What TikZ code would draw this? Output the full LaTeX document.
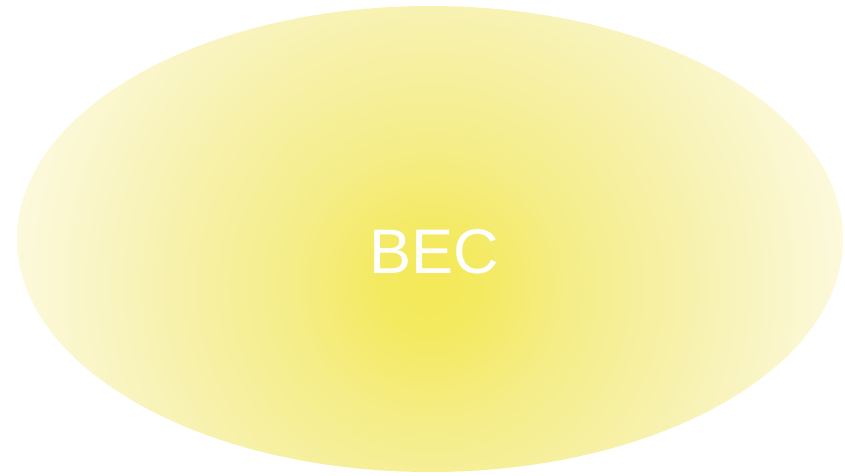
\documentclass[tikz,border=0pt]{standalone}
\usepackage{fontspec}
\setmainfont{Liberation Sans}
\definecolor{becA}{RGB}{244,233,88}
\definecolor{becB}{RGB}{245,237,135}
\definecolor{becC}{RGB}{247,241,172}
\definecolor{becD}{RGB}{252,249,220}
\pgfdeclareradialshading{becshade}{\pgfpoint{0bp}{0bp}}{color(0bp)=(becA); color(3bp)=(becA!80!becB); color(8bp)=(becB); color(15bp)=(becC); color(24bp)=(becD); color(50bp)=(becD)}
\tikzset{
  cloud/.style={shading=becshade, draw=none},
  label/.style={text=white, font=\fontsize{63}{70}\selectfont, inner sep=0pt}
}
\begin{document}
\begin{tikzpicture}[x=1pt,y=1pt]
\useasboundingbox (0,0) rectangle (845,475);
\begin{scope}
\clip (430,236) ellipse [x radius=413, y radius=233];
\shade[cloud] (430,190) circle [radius=430];
\end{scope}
\node[label] (bec) at (434,223) {BEC};
\end{tikzpicture}
\end{document}
